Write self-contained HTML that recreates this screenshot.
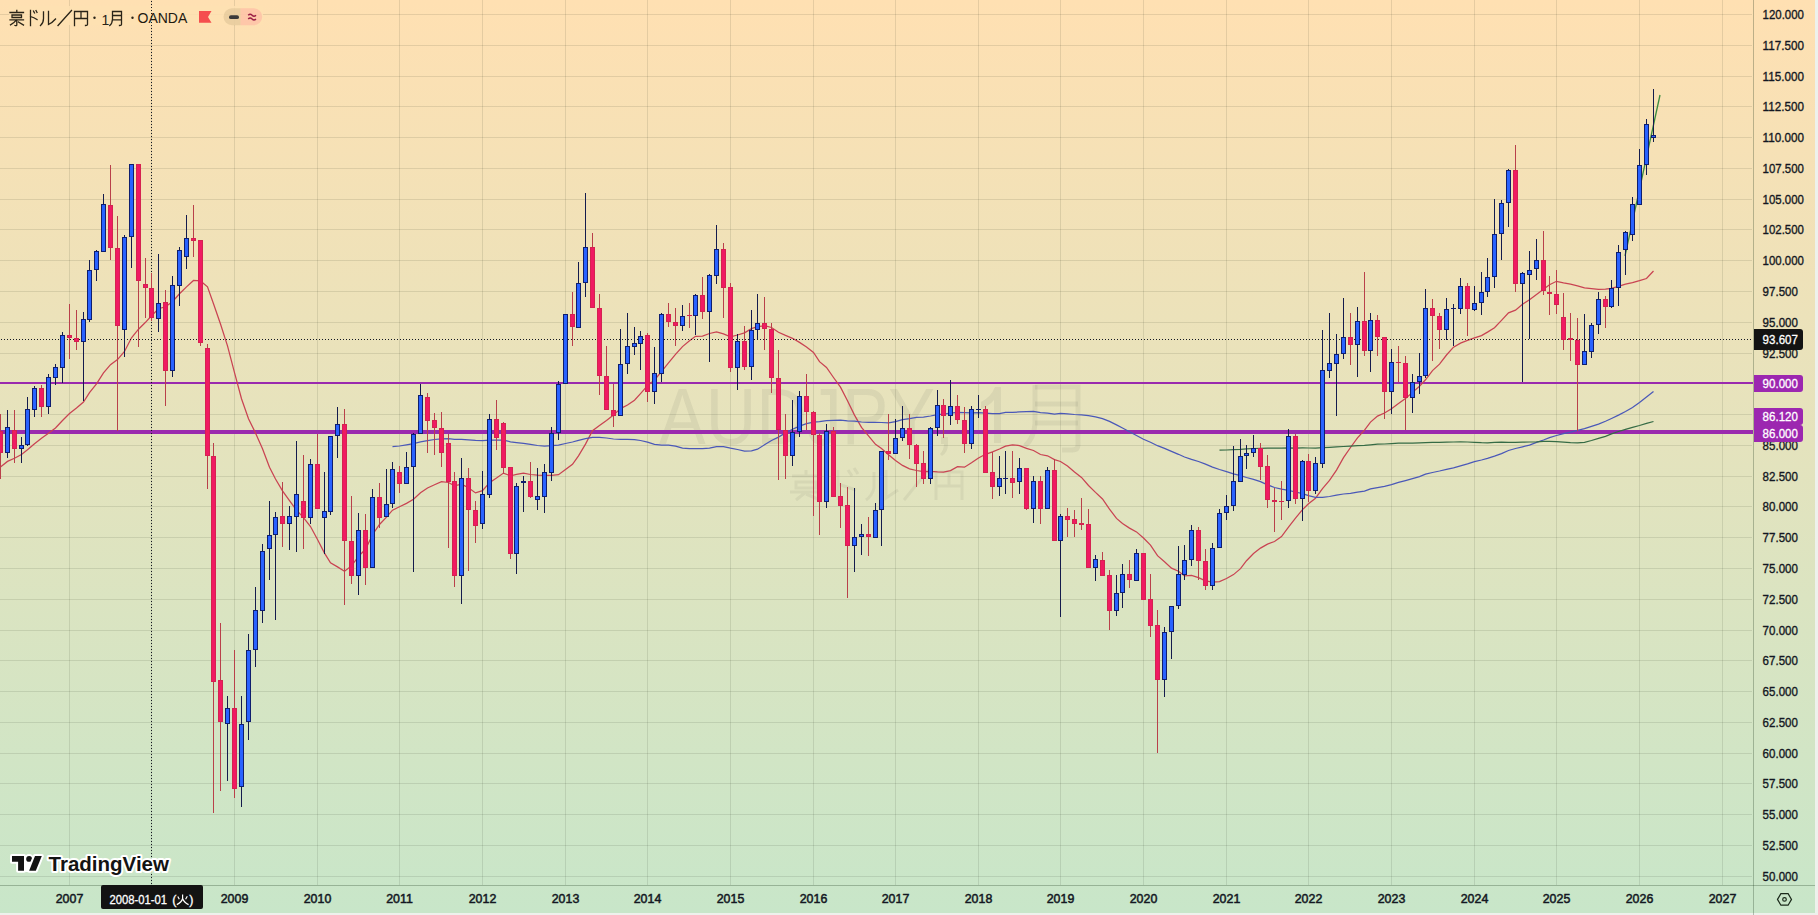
<!DOCTYPE html>
<html><head><meta charset="utf-8"><style>
html,body{margin:0;padding:0;}
body{width:1818px;height:915px;overflow:hidden;position:relative;background:#EEF1EC;}
#bg{position:absolute;left:0;top:0;width:1815px;height:913px;background:linear-gradient(to bottom,#FFE0B2 0%,#C8E6C9 100%);}
</style></head><body>
<div id="bg"></div>
<svg width="1818" height="915" viewBox="0 0 1818 915" style="position:absolute;left:0;top:0"><g stroke="rgba(30,40,20,0.11)" stroke-width="1" shape-rendering="crispEdges"><line x1="0" y1="14.5" x2="1752" y2="14.5"/><line x1="0" y1="45.5" x2="1752" y2="45.5"/><line x1="0" y1="76.5" x2="1752" y2="76.5"/><line x1="0" y1="106.5" x2="1752" y2="106.5"/><line x1="0" y1="137.5" x2="1752" y2="137.5"/><line x1="0" y1="168.5" x2="1752" y2="168.5"/><line x1="0" y1="199.5" x2="1752" y2="199.5"/><line x1="0" y1="229.5" x2="1752" y2="229.5"/><line x1="0" y1="260.5" x2="1752" y2="260.5"/><line x1="0" y1="291.5" x2="1752" y2="291.5"/><line x1="0" y1="322.5" x2="1752" y2="322.5"/><line x1="0" y1="353.5" x2="1752" y2="353.5"/><line x1="0" y1="383.5" x2="1752" y2="383.5"/><line x1="0" y1="414.5" x2="1752" y2="414.5"/><line x1="0" y1="445.5" x2="1752" y2="445.5"/><line x1="0" y1="476.5" x2="1752" y2="476.5"/><line x1="0" y1="506.5" x2="1752" y2="506.5"/><line x1="0" y1="537.5" x2="1752" y2="537.5"/><line x1="0" y1="568.5" x2="1752" y2="568.5"/><line x1="0" y1="599.5" x2="1752" y2="599.5"/><line x1="0" y1="630.5" x2="1752" y2="630.5"/><line x1="0" y1="660.5" x2="1752" y2="660.5"/><line x1="0" y1="691.5" x2="1752" y2="691.5"/><line x1="0" y1="722.5" x2="1752" y2="722.5"/><line x1="0" y1="753.5" x2="1752" y2="753.5"/><line x1="0" y1="783.5" x2="1752" y2="783.5"/><line x1="0" y1="814.5" x2="1752" y2="814.5"/><line x1="0" y1="845.5" x2="1752" y2="845.5"/><line x1="0" y1="876.5" x2="1752" y2="876.5"/><line x1="69.5" y1="0" x2="69.5" y2="885"/><line x1="151.5" y1="0" x2="151.5" y2="885"/><line x1="234.5" y1="0" x2="234.5" y2="885"/><line x1="317.5" y1="0" x2="317.5" y2="885"/><line x1="399.5" y1="0" x2="399.5" y2="885"/><line x1="482.5" y1="0" x2="482.5" y2="885"/><line x1="565.5" y1="0" x2="565.5" y2="885"/><line x1="647.5" y1="0" x2="647.5" y2="885"/><line x1="730.5" y1="0" x2="730.5" y2="885"/><line x1="813.5" y1="0" x2="813.5" y2="885"/><line x1="895.5" y1="0" x2="895.5" y2="885"/><line x1="978.5" y1="0" x2="978.5" y2="885"/><line x1="1060.5" y1="0" x2="1060.5" y2="885"/><line x1="1143.5" y1="0" x2="1143.5" y2="885"/><line x1="1226.5" y1="0" x2="1226.5" y2="885"/><line x1="1308.5" y1="0" x2="1308.5" y2="885"/><line x1="1391.5" y1="0" x2="1391.5" y2="885"/><line x1="1474.5" y1="0" x2="1474.5" y2="885"/><line x1="1556.5" y1="0" x2="1556.5" y2="885"/><line x1="1639.5" y1="0" x2="1639.5" y2="885"/><line x1="1722.5" y1="0" x2="1722.5" y2="885"/></g><rect x="9" y="6" width="254" height="19" fill="rgba(254,224,178,0.88)"/><text x="659" y="443.5" font-family="Liberation Sans, sans-serif" font-size="80" fill="rgba(60,60,60,0.075)" textLength="276" lengthAdjust="spacingAndGlyphs">AUDJPY</text><path d="M941 437 L948 437 L948 444 Q948 452 942 456 L940 454 Q944 450 944 444 L941 444 Z" fill="rgba(60,60,60,0.075)"/><path d="M994 443 L994 400 Q989 406 981 409 L981 402 Q991 397 995 387 L1001 387 L1001 443 Z" fill="rgba(60,60,60,0.075)"/><g fill="none" stroke="rgba(60,60,60,0.075)" stroke-width="5"><path d="M1035 385 L1035 424 Q1034 438 1025 446"/><path d="M1035 387 L1078 387 L1078 445 Q1078 450 1072 450 L1062 450"/><path d="M1035 404 L1078 404"/><path d="M1035 423 L1078 423"/></g><g fill="none" stroke="rgba(60,60,60,0.07)" stroke-width="3"><path d="M792 476 L820 476 M806 470 L806 476 M796 482 L816 482 L816 488 L796 488 Z M790 492 L822 492 M806 492 L796 500 M806 494 L820 500"/><path d="M838 470 L838 500 M838 484 L856 490 M848 470 L852 476 M854 468 L858 474"/><path d="M874 472 L874 488 Q872 496 866 500 M886 470 L886 498 L898 490"/><path d="M930 468 L904 500"/><path d="M936 500 L936 472 L962 472 L962 500 M949 472 L949 486 M936 486 L962 486"/></g><g shape-rendering="crispEdges" fill="#9A2AAE"><rect x="0" y="382" width="1753" height="2"/><rect x="0" y="430" width="1753" height="4"/></g><path d="M-6.5,470.8 L0.5,466.9 L7.5,461.4 L14.5,458.3 L21.5,454.5 L27.5,449.8 L34.5,443.8 L41.5,438.3 L48.5,433.3 L55.5,428.0 L62.5,420.5 L69.5,413.5 L76.5,408.0 L83.5,402.1 L89.5,392.7 L96.5,383.9 L103.5,372.9 L110.5,364.7 L117.5,359.6 L124.5,351.5 L131.5,337.8 L138.5,329.2 L145.5,322.3 L151.5,315.8 L158.5,308.7 L165.5,306.8 L172.5,301.7 L179.5,293.8 L186.5,286.9 L193.5,280.5 L200.5,280.9 L207.5,286.8 L213.5,303.8 L220.5,324.0 L227.5,345.8 L234.5,372.7 L241.5,398.7 L248.5,418.8 L255.5,433.0 L262.5,448.7 L269.5,467.2 L275.5,479.0 L282.5,490.8 L289.5,500.7 L296.5,510.2 L303.5,517.6 L310.5,526.5 L317.5,539.5 L324.5,553.1 L330.5,562.9 L337.5,566.9 L344.5,571.2 L351.5,565.9 L358.5,556.3 L365.5,549.3 L372.5,534.7 L379.5,524.5 L386.5,517.2 L392.5,510.2 L399.5,506.8 L406.5,503.4 L413.5,499.3 L420.5,492.8 L427.5,488.0 L434.5,484.8 L441.5,481.6 L448.5,482.5 L454.5,485.8 L461.5,484.1 L468.5,487.8 L475.5,492.9 L482.5,490.6 L489.5,482.7 L496.5,478.1 L503.5,473.1 L510.5,475.9 L516.5,474.3 L523.5,473.1 L530.5,474.5 L537.5,475.1 L544.5,475.3 L551.5,475.3 L558.5,474.7 L565.5,469.4 L572.5,464.3 L578.5,455.8 L585.5,444.1 L592.5,430.7 L599.5,425.6 L606.5,420.6 L613.5,415.1 L620.5,408.6 L627.5,405.0 L634.5,400.2 L640.5,393.6 L647.5,385.6 L654.5,380.0 L661.5,371.6 L668.5,362.9 L675.5,354.4 L682.5,346.6 L689.5,340.7 L695.5,336.3 L702.5,336.1 L709.5,333.5 L716.5,331.8 L723.5,333.9 L730.5,336.8 L737.5,335.0 L744.5,332.9 L751.5,328.6 L757.5,326.6 L764.5,325.7 L771.5,327.5 L778.5,332.2 L785.5,335.4 L792.5,338.3 L799.5,342.4 L806.5,346.9 L813.5,352.4 L819.5,361.7 L826.5,367.4 L833.5,377.5 L840.5,387.2 L847.5,400.7 L854.5,415.1 L861.5,427.4 L868.5,435.9 L875.5,444.3 L881.5,448.5 L888.5,454.7 L895.5,460.5 L902.5,465.4 L909.5,468.8 L916.5,470.5 L923.5,471.6 L930.5,471.4 L937.5,471.9 L943.5,472.1 L950.5,470.6 L957.5,466.6 L964.5,467.2 L971.5,462.8 L978.5,458.0 L985.5,454.3 L992.5,451.8 L999.5,449.0 L1005.5,446.1 L1012.5,444.8 L1019.5,445.6 L1026.5,448.4 L1033.5,450.5 L1040.5,454.5 L1047.5,455.8 L1054.5,459.6 L1060.5,461.5 L1067.5,466.1 L1074.5,472.0 L1081.5,477.4 L1088.5,485.5 L1095.5,492.4 L1102.5,499.0 L1109.5,509.1 L1116.5,518.4 L1122.5,523.4 L1129.5,528.1 L1136.5,531.9 L1143.5,538.0 L1150.5,545.1 L1157.5,555.7 L1164.5,561.8 L1171.5,568.1 L1178.5,571.3 L1184.5,575.9 L1191.5,575.3 L1198.5,577.6 L1205.5,580.9 L1212.5,582.2 L1219.5,581.6 L1226.5,578.5 L1233.5,574.6 L1240.5,568.6 L1246.5,560.7 L1253.5,553.5 L1260.5,548.1 L1267.5,544.1 L1274.5,541.5 L1281.5,536.6 L1288.5,527.2 L1295.5,518.1 L1302.5,509.6 L1308.5,503.8 L1315.5,498.2 L1322.5,488.7 L1329.5,480.4 L1336.5,470.1 L1343.5,457.6 L1350.5,447.5 L1357.5,437.9 L1364.5,430.1 L1370.5,422.1 L1377.5,416.1 L1384.5,413.0 L1391.5,408.7 L1398.5,403.6 L1405.5,398.4 L1412.5,392.4 L1419.5,386.2 L1425.5,379.8 L1432.5,370.6 L1439.5,364.1 L1446.5,355.0 L1453.5,347.2 L1460.5,343.1 L1467.5,340.4 L1474.5,337.8 L1481.5,335.6 L1487.5,332.1 L1494.5,327.8 L1501.5,320.4 L1508.5,312.9 L1515.5,310.2 L1522.5,304.3 L1529.5,299.7 L1536.5,294.5 L1543.5,289.2 L1549.5,284.8 L1556.5,281.3 L1563.5,282.9 L1570.5,284.1 L1577.5,285.8 L1584.5,287.9 L1591.5,288.7 L1598.5,289.4 L1605.5,289.2 L1611.5,288.4 L1618.5,286.4 L1625.5,284.1 L1632.5,282.7 L1639.5,280.7 L1646.5,278.5 L1653.5,271.0" fill="none" stroke="#C94352" stroke-width="1.25"/><path d="M392.5,446.6 L399.5,446.0 L406.5,444.8 L413.5,443.6 L420.5,441.8 L427.5,440.7 L434.5,439.5 L441.5,438.9 L448.5,438.6 L454.5,439.3 L461.5,439.4 L468.5,439.8 L475.5,440.3 L482.5,440.5 L489.5,440.1 L496.5,440.1 L503.5,440.2 L510.5,441.8 L516.5,442.6 L523.5,443.4 L530.5,444.3 L537.5,445.5 L544.5,446.0 L551.5,445.7 L558.5,445.2 L565.5,443.5 L572.5,442.0 L578.5,440.4 L585.5,438.7 L592.5,437.4 L599.5,437.4 L606.5,438.0 L613.5,439.0 L620.5,439.3 L627.5,439.4 L634.5,439.6 L640.5,440.5 L647.5,442.2 L654.5,444.3 L661.5,445.2 L668.5,445.1 L675.5,446.2 L682.5,448.1 L689.5,448.6 L695.5,448.7 L702.5,448.6 L709.5,448.2 L716.5,446.7 L723.5,446.7 L730.5,448.2 L737.5,449.5 L744.5,451.1 L751.5,450.9 L757.5,449.2 L764.5,444.8 L771.5,440.5 L778.5,437.1 L785.5,432.9 L792.5,429.3 L799.5,426.1 L806.5,423.6 L813.5,422.2 L819.5,421.7 L826.5,420.7 L833.5,420.3 L840.5,420.2 L847.5,420.8 L854.5,421.1 L861.5,422.0 L868.5,422.3 L875.5,422.3 L881.5,422.5 L888.5,422.8 L895.5,421.6 L902.5,419.7 L909.5,418.7 L916.5,417.3 L923.5,417.1 L930.5,416.0 L937.5,414.7 L943.5,414.1 L950.5,413.1 L957.5,412.5 L964.5,412.7 L971.5,412.8 L978.5,412.7 L985.5,413.2 L992.5,413.6 L999.5,413.6 L1005.5,412.4 L1012.5,412.4 L1019.5,411.9 L1026.5,411.7 L1033.5,411.5 L1040.5,412.7 L1047.5,413.1 L1054.5,414.0 L1060.5,413.5 L1067.5,413.9 L1074.5,414.5 L1081.5,414.8 L1088.5,415.7 L1095.5,416.8 L1102.5,418.6 L1109.5,421.4 L1116.5,424.9 L1122.5,428.0 L1129.5,431.7 L1136.5,435.5 L1143.5,439.2 L1150.5,442.3 L1157.5,445.7 L1164.5,448.4 L1171.5,451.4 L1178.5,454.3 L1184.5,457.0 L1191.5,459.4 L1198.5,461.5 L1205.5,464.2 L1212.5,467.1 L1219.5,469.5 L1226.5,471.7 L1233.5,473.8 L1240.5,475.6 L1246.5,477.5 L1253.5,479.3 L1260.5,481.6 L1267.5,484.8 L1274.5,487.5 L1281.5,489.1 L1288.5,490.3 L1295.5,492.0 L1302.5,493.6 L1308.5,495.7 L1315.5,497.4 L1322.5,497.3 L1329.5,496.5 L1336.5,495.2 L1343.5,494.0 L1350.5,493.4 L1357.5,492.2 L1364.5,491.2 L1370.5,488.9 L1377.5,487.7 L1384.5,486.4 L1391.5,484.6 L1398.5,482.4 L1405.5,480.6 L1412.5,478.7 L1419.5,476.7 L1425.5,474.2 L1432.5,472.5 L1439.5,471.0 L1446.5,469.3 L1453.5,467.8 L1460.5,465.9 L1467.5,463.9 L1474.5,461.7 L1481.5,460.0 L1487.5,458.4 L1494.5,456.2 L1501.5,453.6 L1508.5,450.5 L1515.5,448.5 L1522.5,446.8 L1529.5,445.1 L1536.5,442.4 L1543.5,440.0 L1549.5,437.7 L1556.5,435.5 L1563.5,433.7 L1570.5,432.1 L1577.5,430.3 L1584.5,428.7 L1591.5,426.4 L1598.5,424.2 L1605.5,421.3 L1611.5,418.5 L1618.5,415.1 L1625.5,411.5 L1632.5,407.5 L1639.5,402.4 L1646.5,397.0 L1653.5,391.5" fill="none" stroke="#4A58B8" stroke-width="1.25"/><path d="M1219.5,450.2 L1226.5,450.0 L1233.5,449.6 L1240.5,449.3 L1246.5,448.8 L1253.5,448.5 L1260.5,448.3 L1267.5,448.2 L1274.5,448.2 L1281.5,448.1 L1288.5,447.9 L1295.5,448.1 L1302.5,447.9 L1308.5,448.0 L1315.5,448.1 L1322.5,447.7 L1329.5,447.3 L1336.5,446.9 L1343.5,446.5 L1350.5,446.1 L1357.5,445.6 L1364.5,445.4 L1370.5,444.8 L1377.5,444.2 L1384.5,444.0 L1391.5,443.6 L1398.5,443.2 L1405.5,443.1 L1412.5,443.1 L1419.5,442.9 L1425.5,442.6 L1432.5,442.3 L1439.5,442.3 L1446.5,442.2 L1453.5,442.0 L1460.5,441.8 L1467.5,442.0 L1474.5,442.3 L1481.5,442.7 L1487.5,442.9 L1494.5,442.4 L1501.5,442.2 L1508.5,442.3 L1515.5,442.3 L1522.5,442.2 L1529.5,442.0 L1536.5,441.8 L1543.5,441.4 L1549.5,441.4 L1556.5,441.7 L1563.5,442.2 L1570.5,442.7 L1577.5,442.8 L1584.5,442.3 L1591.5,440.5 L1598.5,438.4 L1605.5,436.4 L1611.5,433.9 L1618.5,431.5 L1625.5,429.4 L1632.5,427.4 L1639.5,425.5 L1646.5,423.4 L1653.5,421.5" fill="none" stroke="#356B45" stroke-width="1.25"/><path d="M1625 256 L1660 95" fill="none" stroke="#3B8A3E" stroke-width="1.3"/><g stroke="#131722" stroke-width="1" stroke-dasharray="1 2" shape-rendering="crispEdges"><line x1="151.5" y1="1" x2="151.5" y2="885"/><line x1="1" y1="339.5" x2="1753" y2="339.5"/></g><g shape-rendering="crispEdges"><rect x="0" y="414" width="1" height="65" fill="#B9404A"/><rect x="-2" y="431" width="5" height="22" fill="#D52250"/><rect x="-1" y="432" width="3" height="20" fill="#F01A62"/><rect x="7" y="410" width="1" height="48" fill="#141B4D"/><rect x="5" y="427" width="5" height="26" fill="#0F1E6E"/><rect x="6" y="428" width="3" height="24" fill="#2962FF"/><rect x="14" y="410" width="1" height="53" fill="#B9404A"/><rect x="12" y="430" width="5" height="19" fill="#D52250"/><rect x="13" y="431" width="3" height="17" fill="#F01A62"/><rect x="21" y="437" width="1" height="26" fill="#141B4D"/><rect x="19" y="445" width="5" height="4" fill="#0F1E6E"/><rect x="20" y="446" width="3" height="2" fill="#2962FF"/><rect x="27" y="397" width="1" height="49" fill="#141B4D"/><rect x="25" y="409" width="5" height="36" fill="#0F1E6E"/><rect x="26" y="410" width="3" height="34" fill="#2962FF"/><rect x="34" y="386" width="1" height="31" fill="#141B4D"/><rect x="32" y="388" width="5" height="22" fill="#0F1E6E"/><rect x="33" y="389" width="3" height="20" fill="#2962FF"/><rect x="41" y="385" width="1" height="32" fill="#B9404A"/><rect x="39" y="388" width="5" height="19" fill="#D52250"/><rect x="40" y="389" width="3" height="17" fill="#F01A62"/><rect x="48" y="374" width="1" height="40" fill="#141B4D"/><rect x="46" y="377" width="5" height="30" fill="#0F1E6E"/><rect x="47" y="378" width="3" height="28" fill="#2962FF"/><rect x="55" y="364" width="1" height="21" fill="#141B4D"/><rect x="53" y="367" width="5" height="11" fill="#0F1E6E"/><rect x="54" y="368" width="3" height="9" fill="#2962FF"/><rect x="62" y="332" width="1" height="51" fill="#141B4D"/><rect x="60" y="335" width="5" height="33" fill="#0F1E6E"/><rect x="61" y="336" width="3" height="31" fill="#2962FF"/><rect x="69" y="304" width="1" height="55" fill="#B9404A"/><rect x="67" y="335" width="5" height="3" fill="#D52250"/><rect x="68" y="336" width="3" height="1" fill="#F01A62"/><rect x="76" y="310" width="1" height="40" fill="#B9404A"/><rect x="74" y="338" width="5" height="4" fill="#D52250"/><rect x="75" y="339" width="3" height="2" fill="#F01A62"/><rect x="83" y="312" width="1" height="89" fill="#141B4D"/><rect x="81" y="319" width="5" height="23" fill="#0F1E6E"/><rect x="82" y="320" width="3" height="21" fill="#2962FF"/><rect x="89" y="260" width="1" height="62" fill="#141B4D"/><rect x="87" y="270" width="5" height="50" fill="#0F1E6E"/><rect x="88" y="271" width="3" height="48" fill="#2962FF"/><rect x="96" y="250" width="1" height="31" fill="#141B4D"/><rect x="94" y="251" width="5" height="19" fill="#0F1E6E"/><rect x="95" y="252" width="3" height="17" fill="#2962FF"/><rect x="103" y="194" width="1" height="58" fill="#141B4D"/><rect x="101" y="204" width="5" height="48" fill="#0F1E6E"/><rect x="102" y="205" width="3" height="46" fill="#2962FF"/><rect x="110" y="165" width="1" height="95" fill="#B9404A"/><rect x="108" y="205" width="5" height="43" fill="#D52250"/><rect x="109" y="206" width="3" height="41" fill="#F01A62"/><rect x="117" y="216" width="1" height="215" fill="#B9404A"/><rect x="115" y="248" width="5" height="78" fill="#D52250"/><rect x="116" y="249" width="3" height="76" fill="#F01A62"/><rect x="124" y="235" width="1" height="122" fill="#141B4D"/><rect x="122" y="237" width="5" height="93" fill="#0F1E6E"/><rect x="123" y="238" width="3" height="91" fill="#2962FF"/><rect x="131" y="164" width="1" height="104" fill="#141B4D"/><rect x="129" y="164" width="5" height="73" fill="#0F1E6E"/><rect x="130" y="165" width="3" height="71" fill="#2962FF"/><rect x="138" y="164" width="1" height="183" fill="#B9404A"/><rect x="136" y="164" width="5" height="117" fill="#D52250"/><rect x="137" y="165" width="3" height="115" fill="#F01A62"/><rect x="145" y="258" width="1" height="60" fill="#B9404A"/><rect x="143" y="284" width="5" height="4" fill="#D52250"/><rect x="144" y="285" width="3" height="2" fill="#F01A62"/><rect x="151" y="273" width="1" height="48" fill="#B9404A"/><rect x="149" y="288" width="5" height="30" fill="#D52250"/><rect x="150" y="289" width="3" height="28" fill="#F01A62"/><rect x="158" y="254" width="1" height="78" fill="#141B4D"/><rect x="156" y="303" width="5" height="16" fill="#0F1E6E"/><rect x="157" y="304" width="3" height="14" fill="#2962FF"/><rect x="165" y="290" width="1" height="116" fill="#B9404A"/><rect x="163" y="302" width="5" height="69" fill="#D52250"/><rect x="164" y="303" width="3" height="67" fill="#F01A62"/><rect x="172" y="276" width="1" height="101" fill="#141B4D"/><rect x="170" y="285" width="5" height="86" fill="#0F1E6E"/><rect x="171" y="286" width="3" height="84" fill="#2962FF"/><rect x="179" y="247" width="1" height="59" fill="#141B4D"/><rect x="177" y="250" width="5" height="36" fill="#0F1E6E"/><rect x="178" y="251" width="3" height="34" fill="#2962FF"/><rect x="186" y="215" width="1" height="54" fill="#141B4D"/><rect x="184" y="238" width="5" height="19" fill="#0F1E6E"/><rect x="185" y="239" width="3" height="17" fill="#2962FF"/><rect x="193" y="205" width="1" height="52" fill="#B9404A"/><rect x="191" y="238" width="5" height="3" fill="#D52250"/><rect x="192" y="239" width="3" height="1" fill="#F01A62"/><rect x="200" y="240" width="1" height="106" fill="#B9404A"/><rect x="198" y="240" width="5" height="103" fill="#D52250"/><rect x="199" y="241" width="3" height="101" fill="#F01A62"/><rect x="207" y="344" width="1" height="145" fill="#B9404A"/><rect x="205" y="348" width="5" height="108" fill="#D52250"/><rect x="206" y="349" width="3" height="106" fill="#F01A62"/><rect x="213" y="443" width="1" height="370" fill="#B9404A"/><rect x="211" y="456" width="5" height="226" fill="#D52250"/><rect x="212" y="457" width="3" height="224" fill="#F01A62"/><rect x="220" y="623" width="1" height="168" fill="#B9404A"/><rect x="218" y="680" width="5" height="42" fill="#D52250"/><rect x="219" y="681" width="3" height="40" fill="#F01A62"/><rect x="227" y="696" width="1" height="85" fill="#141B4D"/><rect x="225" y="708" width="5" height="16" fill="#0F1E6E"/><rect x="226" y="709" width="3" height="14" fill="#2962FF"/><rect x="234" y="650" width="1" height="148" fill="#B9404A"/><rect x="232" y="708" width="5" height="81" fill="#D52250"/><rect x="233" y="709" width="3" height="79" fill="#F01A62"/><rect x="241" y="696" width="1" height="111" fill="#141B4D"/><rect x="239" y="724" width="5" height="63" fill="#0F1E6E"/><rect x="240" y="725" width="3" height="61" fill="#2962FF"/><rect x="248" y="634" width="1" height="106" fill="#141B4D"/><rect x="246" y="650" width="5" height="72" fill="#0F1E6E"/><rect x="247" y="651" width="3" height="70" fill="#2962FF"/><rect x="255" y="587" width="1" height="80" fill="#141B4D"/><rect x="253" y="610" width="5" height="40" fill="#0F1E6E"/><rect x="254" y="611" width="3" height="38" fill="#2962FF"/><rect x="262" y="544" width="1" height="79" fill="#141B4D"/><rect x="260" y="551" width="5" height="60" fill="#0F1E6E"/><rect x="261" y="552" width="3" height="58" fill="#2962FF"/><rect x="269" y="501" width="1" height="79" fill="#141B4D"/><rect x="267" y="535" width="5" height="14" fill="#0F1E6E"/><rect x="268" y="536" width="3" height="12" fill="#2962FF"/><rect x="275" y="512" width="1" height="108" fill="#141B4D"/><rect x="273" y="517" width="5" height="18" fill="#0F1E6E"/><rect x="274" y="518" width="3" height="16" fill="#2962FF"/><rect x="282" y="482" width="1" height="65" fill="#B9404A"/><rect x="280" y="516" width="5" height="8" fill="#D52250"/><rect x="281" y="517" width="3" height="6" fill="#F01A62"/><rect x="289" y="506" width="1" height="44" fill="#141B4D"/><rect x="287" y="516" width="5" height="8" fill="#0F1E6E"/><rect x="288" y="517" width="3" height="6" fill="#2962FF"/><rect x="296" y="441" width="1" height="111" fill="#141B4D"/><rect x="294" y="494" width="5" height="23" fill="#0F1E6E"/><rect x="295" y="495" width="3" height="21" fill="#2962FF"/><rect x="303" y="455" width="1" height="94" fill="#B9404A"/><rect x="301" y="501" width="5" height="17" fill="#D52250"/><rect x="302" y="502" width="3" height="15" fill="#F01A62"/><rect x="310" y="459" width="1" height="65" fill="#141B4D"/><rect x="308" y="464" width="5" height="54" fill="#0F1E6E"/><rect x="309" y="465" width="3" height="52" fill="#2962FF"/><rect x="317" y="434" width="1" height="75" fill="#B9404A"/><rect x="315" y="464" width="5" height="45" fill="#D52250"/><rect x="316" y="465" width="3" height="43" fill="#F01A62"/><rect x="324" y="472" width="1" height="82" fill="#141B4D"/><rect x="322" y="511" width="5" height="7" fill="#0F1E6E"/><rect x="323" y="512" width="3" height="5" fill="#2962FF"/><rect x="330" y="436" width="1" height="79" fill="#141B4D"/><rect x="328" y="436" width="5" height="76" fill="#0F1E6E"/><rect x="329" y="437" width="3" height="74" fill="#2962FF"/><rect x="337" y="407" width="1" height="51" fill="#141B4D"/><rect x="335" y="424" width="5" height="12" fill="#0F1E6E"/><rect x="336" y="425" width="3" height="10" fill="#2962FF"/><rect x="344" y="409" width="1" height="196" fill="#B9404A"/><rect x="342" y="424" width="5" height="117" fill="#D52250"/><rect x="343" y="425" width="3" height="115" fill="#F01A62"/><rect x="351" y="496" width="1" height="88" fill="#B9404A"/><rect x="349" y="541" width="5" height="35" fill="#D52250"/><rect x="350" y="542" width="3" height="33" fill="#F01A62"/><rect x="358" y="513" width="1" height="82" fill="#141B4D"/><rect x="356" y="530" width="5" height="46" fill="#0F1E6E"/><rect x="357" y="531" width="3" height="44" fill="#2962FF"/><rect x="365" y="514" width="1" height="71" fill="#B9404A"/><rect x="363" y="530" width="5" height="38" fill="#D52250"/><rect x="364" y="531" width="3" height="36" fill="#F01A62"/><rect x="372" y="489" width="1" height="79" fill="#141B4D"/><rect x="370" y="497" width="5" height="71" fill="#0F1E6E"/><rect x="371" y="498" width="3" height="69" fill="#2962FF"/><rect x="379" y="483" width="1" height="45" fill="#B9404A"/><rect x="377" y="497" width="5" height="21" fill="#D52250"/><rect x="378" y="498" width="3" height="19" fill="#F01A62"/><rect x="386" y="469" width="1" height="48" fill="#141B4D"/><rect x="384" y="504" width="5" height="13" fill="#0F1E6E"/><rect x="385" y="505" width="3" height="11" fill="#2962FF"/><rect x="392" y="462" width="1" height="46" fill="#141B4D"/><rect x="390" y="469" width="5" height="35" fill="#0F1E6E"/><rect x="391" y="470" width="3" height="33" fill="#2962FF"/><rect x="399" y="466" width="1" height="27" fill="#B9404A"/><rect x="397" y="472" width="5" height="12" fill="#D52250"/><rect x="398" y="473" width="3" height="10" fill="#F01A62"/><rect x="406" y="452" width="1" height="32" fill="#141B4D"/><rect x="404" y="467" width="5" height="17" fill="#0F1E6E"/><rect x="405" y="468" width="3" height="15" fill="#2962FF"/><rect x="413" y="433" width="1" height="139" fill="#141B4D"/><rect x="411" y="434" width="5" height="33" fill="#0F1E6E"/><rect x="412" y="435" width="3" height="31" fill="#2962FF"/><rect x="420" y="384" width="1" height="50" fill="#141B4D"/><rect x="418" y="395" width="5" height="39" fill="#0F1E6E"/><rect x="419" y="396" width="3" height="37" fill="#2962FF"/><rect x="427" y="393" width="1" height="60" fill="#B9404A"/><rect x="425" y="397" width="5" height="24" fill="#D52250"/><rect x="426" y="398" width="3" height="22" fill="#F01A62"/><rect x="434" y="413" width="1" height="42" fill="#B9404A"/><rect x="432" y="420" width="5" height="8" fill="#D52250"/><rect x="433" y="421" width="3" height="6" fill="#F01A62"/><rect x="441" y="412" width="1" height="55" fill="#B9404A"/><rect x="439" y="428" width="5" height="25" fill="#D52250"/><rect x="440" y="429" width="3" height="23" fill="#F01A62"/><rect x="448" y="434" width="1" height="114" fill="#B9404A"/><rect x="446" y="443" width="5" height="39" fill="#D52250"/><rect x="447" y="444" width="3" height="37" fill="#F01A62"/><rect x="454" y="472" width="1" height="115" fill="#B9404A"/><rect x="452" y="481" width="5" height="95" fill="#D52250"/><rect x="453" y="482" width="3" height="93" fill="#F01A62"/><rect x="461" y="458" width="1" height="146" fill="#141B4D"/><rect x="459" y="478" width="5" height="98" fill="#0F1E6E"/><rect x="460" y="479" width="3" height="96" fill="#2962FF"/><rect x="468" y="468" width="1" height="103" fill="#B9404A"/><rect x="466" y="478" width="5" height="32" fill="#D52250"/><rect x="467" y="479" width="3" height="30" fill="#F01A62"/><rect x="475" y="501" width="1" height="42" fill="#B9404A"/><rect x="473" y="510" width="5" height="16" fill="#D52250"/><rect x="474" y="511" width="3" height="14" fill="#F01A62"/><rect x="482" y="471" width="1" height="58" fill="#141B4D"/><rect x="480" y="494" width="5" height="30" fill="#0F1E6E"/><rect x="481" y="495" width="3" height="28" fill="#2962FF"/><rect x="489" y="414" width="1" height="84" fill="#141B4D"/><rect x="487" y="419" width="5" height="76" fill="#0F1E6E"/><rect x="488" y="420" width="3" height="74" fill="#2962FF"/><rect x="496" y="400" width="1" height="50" fill="#B9404A"/><rect x="494" y="419" width="5" height="19" fill="#D52250"/><rect x="495" y="420" width="3" height="17" fill="#F01A62"/><rect x="503" y="422" width="1" height="52" fill="#B9404A"/><rect x="501" y="423" width="5" height="45" fill="#D52250"/><rect x="502" y="424" width="3" height="43" fill="#F01A62"/><rect x="510" y="467" width="1" height="92" fill="#B9404A"/><rect x="508" y="467" width="5" height="87" fill="#D52250"/><rect x="509" y="468" width="3" height="85" fill="#F01A62"/><rect x="516" y="483" width="1" height="91" fill="#141B4D"/><rect x="514" y="486" width="5" height="68" fill="#0F1E6E"/><rect x="515" y="487" width="3" height="66" fill="#2962FF"/><rect x="523" y="476" width="1" height="36" fill="#141B4D"/><rect x="521" y="481" width="5" height="2" fill="#0F1E6E"/><rect x="530" y="462" width="1" height="36" fill="#B9404A"/><rect x="528" y="481" width="5" height="16" fill="#D52250"/><rect x="529" y="482" width="3" height="14" fill="#F01A62"/><rect x="537" y="468" width="1" height="42" fill="#141B4D"/><rect x="535" y="496" width="5" height="4" fill="#0F1E6E"/><rect x="536" y="497" width="3" height="2" fill="#2962FF"/><rect x="544" y="464" width="1" height="49" fill="#141B4D"/><rect x="542" y="472" width="5" height="25" fill="#0F1E6E"/><rect x="543" y="473" width="3" height="23" fill="#2962FF"/><rect x="551" y="427" width="1" height="54" fill="#141B4D"/><rect x="549" y="433" width="5" height="40" fill="#0F1E6E"/><rect x="550" y="434" width="3" height="38" fill="#2962FF"/><rect x="558" y="381" width="1" height="59" fill="#141B4D"/><rect x="556" y="384" width="5" height="49" fill="#0F1E6E"/><rect x="557" y="385" width="3" height="47" fill="#2962FF"/><rect x="565" y="314" width="1" height="70" fill="#141B4D"/><rect x="563" y="314" width="5" height="70" fill="#0F1E6E"/><rect x="564" y="315" width="3" height="68" fill="#2962FF"/><rect x="572" y="292" width="1" height="54" fill="#B9404A"/><rect x="570" y="314" width="5" height="13" fill="#D52250"/><rect x="571" y="315" width="3" height="11" fill="#F01A62"/><rect x="578" y="262" width="1" height="66" fill="#141B4D"/><rect x="576" y="283" width="5" height="45" fill="#0F1E6E"/><rect x="577" y="284" width="3" height="43" fill="#2962FF"/><rect x="585" y="193" width="1" height="104" fill="#141B4D"/><rect x="583" y="247" width="5" height="36" fill="#0F1E6E"/><rect x="584" y="248" width="3" height="34" fill="#2962FF"/><rect x="592" y="233" width="1" height="75" fill="#B9404A"/><rect x="590" y="247" width="5" height="61" fill="#D52250"/><rect x="591" y="248" width="3" height="59" fill="#F01A62"/><rect x="599" y="294" width="1" height="101" fill="#B9404A"/><rect x="597" y="308" width="5" height="68" fill="#D52250"/><rect x="598" y="309" width="3" height="66" fill="#F01A62"/><rect x="606" y="346" width="1" height="64" fill="#B9404A"/><rect x="604" y="376" width="5" height="34" fill="#D52250"/><rect x="605" y="377" width="3" height="32" fill="#F01A62"/><rect x="613" y="384" width="1" height="43" fill="#B9404A"/><rect x="611" y="410" width="5" height="6" fill="#D52250"/><rect x="612" y="411" width="3" height="4" fill="#F01A62"/><rect x="620" y="329" width="1" height="87" fill="#141B4D"/><rect x="618" y="364" width="5" height="52" fill="#0F1E6E"/><rect x="619" y="365" width="3" height="50" fill="#2962FF"/><rect x="627" y="313" width="1" height="61" fill="#141B4D"/><rect x="625" y="346" width="5" height="18" fill="#0F1E6E"/><rect x="626" y="347" width="3" height="16" fill="#2962FF"/><rect x="634" y="327" width="1" height="28" fill="#141B4D"/><rect x="632" y="343" width="5" height="4" fill="#0F1E6E"/><rect x="633" y="344" width="3" height="2" fill="#2962FF"/><rect x="640" y="331" width="1" height="39" fill="#141B4D"/><rect x="638" y="336" width="5" height="8" fill="#0F1E6E"/><rect x="639" y="337" width="3" height="6" fill="#2962FF"/><rect x="647" y="333" width="1" height="69" fill="#B9404A"/><rect x="645" y="335" width="5" height="57" fill="#D52250"/><rect x="646" y="336" width="3" height="55" fill="#F01A62"/><rect x="654" y="347" width="1" height="57" fill="#141B4D"/><rect x="652" y="373" width="5" height="19" fill="#0F1E6E"/><rect x="653" y="374" width="3" height="17" fill="#2962FF"/><rect x="661" y="313" width="1" height="69" fill="#141B4D"/><rect x="659" y="314" width="5" height="60" fill="#0F1E6E"/><rect x="660" y="315" width="3" height="58" fill="#2962FF"/><rect x="668" y="303" width="1" height="24" fill="#B9404A"/><rect x="666" y="314" width="5" height="8" fill="#D52250"/><rect x="667" y="315" width="3" height="6" fill="#F01A62"/><rect x="675" y="308" width="1" height="38" fill="#B9404A"/><rect x="673" y="322" width="5" height="4" fill="#D52250"/><rect x="674" y="323" width="3" height="2" fill="#F01A62"/><rect x="682" y="305" width="1" height="26" fill="#141B4D"/><rect x="680" y="316" width="5" height="10" fill="#0F1E6E"/><rect x="681" y="317" width="3" height="8" fill="#2962FF"/><rect x="689" y="303" width="1" height="25" fill="#B9404A"/><rect x="687" y="315" width="5" height="1" fill="#D52250"/><rect x="695" y="294" width="1" height="41" fill="#141B4D"/><rect x="693" y="295" width="5" height="21" fill="#0F1E6E"/><rect x="694" y="296" width="3" height="19" fill="#2962FF"/><rect x="702" y="277" width="1" height="42" fill="#B9404A"/><rect x="700" y="295" width="5" height="17" fill="#D52250"/><rect x="701" y="296" width="3" height="15" fill="#F01A62"/><rect x="709" y="274" width="1" height="88" fill="#141B4D"/><rect x="707" y="275" width="5" height="37" fill="#0F1E6E"/><rect x="708" y="276" width="3" height="35" fill="#2962FF"/><rect x="716" y="225" width="1" height="59" fill="#141B4D"/><rect x="714" y="249" width="5" height="27" fill="#0F1E6E"/><rect x="715" y="250" width="3" height="25" fill="#2962FF"/><rect x="723" y="243" width="1" height="75" fill="#B9404A"/><rect x="721" y="249" width="5" height="39" fill="#D52250"/><rect x="722" y="250" width="3" height="37" fill="#F01A62"/><rect x="730" y="283" width="1" height="89" fill="#B9404A"/><rect x="728" y="287" width="5" height="81" fill="#D52250"/><rect x="729" y="288" width="3" height="79" fill="#F01A62"/><rect x="737" y="334" width="1" height="56" fill="#141B4D"/><rect x="735" y="341" width="5" height="27" fill="#0F1E6E"/><rect x="736" y="342" width="3" height="25" fill="#2962FF"/><rect x="744" y="326" width="1" height="44" fill="#B9404A"/><rect x="742" y="341" width="5" height="26" fill="#D52250"/><rect x="743" y="342" width="3" height="24" fill="#F01A62"/><rect x="751" y="310" width="1" height="70" fill="#141B4D"/><rect x="749" y="330" width="5" height="37" fill="#0F1E6E"/><rect x="750" y="331" width="3" height="35" fill="#2962FF"/><rect x="757" y="294" width="1" height="45" fill="#141B4D"/><rect x="755" y="323" width="5" height="7" fill="#0F1E6E"/><rect x="756" y="324" width="3" height="5" fill="#2962FF"/><rect x="764" y="297" width="1" height="53" fill="#B9404A"/><rect x="762" y="323" width="5" height="6" fill="#D52250"/><rect x="763" y="324" width="3" height="4" fill="#F01A62"/><rect x="771" y="323" width="1" height="70" fill="#B9404A"/><rect x="769" y="329" width="5" height="49" fill="#D52250"/><rect x="770" y="330" width="3" height="47" fill="#F01A62"/><rect x="778" y="350" width="1" height="130" fill="#B9404A"/><rect x="776" y="378" width="5" height="52" fill="#D52250"/><rect x="777" y="379" width="3" height="50" fill="#F01A62"/><rect x="785" y="414" width="1" height="65" fill="#B9404A"/><rect x="783" y="430" width="5" height="26" fill="#D52250"/><rect x="784" y="431" width="3" height="24" fill="#F01A62"/><rect x="792" y="400" width="1" height="66" fill="#141B4D"/><rect x="790" y="432" width="5" height="24" fill="#0F1E6E"/><rect x="791" y="433" width="3" height="22" fill="#2962FF"/><rect x="799" y="391" width="1" height="46" fill="#141B4D"/><rect x="797" y="396" width="5" height="36" fill="#0F1E6E"/><rect x="798" y="397" width="3" height="34" fill="#2962FF"/><rect x="806" y="374" width="1" height="56" fill="#B9404A"/><rect x="804" y="396" width="5" height="16" fill="#D52250"/><rect x="805" y="397" width="3" height="14" fill="#F01A62"/><rect x="813" y="411" width="1" height="105" fill="#B9404A"/><rect x="811" y="412" width="5" height="23" fill="#D52250"/><rect x="812" y="413" width="3" height="21" fill="#F01A62"/><rect x="819" y="433" width="1" height="102" fill="#B9404A"/><rect x="817" y="435" width="5" height="67" fill="#D52250"/><rect x="818" y="436" width="3" height="65" fill="#F01A62"/><rect x="826" y="424" width="1" height="84" fill="#141B4D"/><rect x="824" y="431" width="5" height="71" fill="#0F1E6E"/><rect x="825" y="432" width="3" height="69" fill="#2962FF"/><rect x="833" y="427" width="1" height="70" fill="#B9404A"/><rect x="831" y="431" width="5" height="66" fill="#D52250"/><rect x="832" y="432" width="3" height="64" fill="#F01A62"/><rect x="840" y="483" width="1" height="45" fill="#B9404A"/><rect x="838" y="496" width="5" height="10" fill="#D52250"/><rect x="839" y="497" width="3" height="8" fill="#F01A62"/><rect x="847" y="487" width="1" height="111" fill="#B9404A"/><rect x="845" y="505" width="5" height="41" fill="#D52250"/><rect x="846" y="506" width="3" height="39" fill="#F01A62"/><rect x="854" y="488" width="1" height="84" fill="#141B4D"/><rect x="852" y="537" width="5" height="9" fill="#0F1E6E"/><rect x="853" y="538" width="3" height="7" fill="#2962FF"/><rect x="861" y="524" width="1" height="31" fill="#141B4D"/><rect x="859" y="534" width="5" height="3" fill="#0F1E6E"/><rect x="860" y="535" width="3" height="1" fill="#2962FF"/><rect x="868" y="517" width="1" height="39" fill="#B9404A"/><rect x="866" y="534" width="5" height="3" fill="#D52250"/><rect x="867" y="535" width="3" height="1" fill="#F01A62"/><rect x="875" y="503" width="1" height="35" fill="#141B4D"/><rect x="873" y="510" width="5" height="28" fill="#0F1E6E"/><rect x="874" y="511" width="3" height="26" fill="#2962FF"/><rect x="881" y="451" width="1" height="95" fill="#141B4D"/><rect x="879" y="451" width="5" height="59" fill="#0F1E6E"/><rect x="880" y="452" width="3" height="57" fill="#2962FF"/><rect x="888" y="414" width="1" height="46" fill="#B9404A"/><rect x="886" y="451" width="5" height="3" fill="#D52250"/><rect x="887" y="452" width="3" height="1" fill="#F01A62"/><rect x="895" y="419" width="1" height="35" fill="#141B4D"/><rect x="893" y="438" width="5" height="16" fill="#0F1E6E"/><rect x="894" y="439" width="3" height="14" fill="#2962FF"/><rect x="902" y="406" width="1" height="35" fill="#141B4D"/><rect x="900" y="428" width="5" height="10" fill="#0F1E6E"/><rect x="901" y="429" width="3" height="8" fill="#2962FF"/><rect x="909" y="414" width="1" height="45" fill="#B9404A"/><rect x="907" y="428" width="5" height="17" fill="#D52250"/><rect x="908" y="429" width="3" height="15" fill="#F01A62"/><rect x="916" y="444" width="1" height="43" fill="#B9404A"/><rect x="914" y="445" width="5" height="19" fill="#D52250"/><rect x="915" y="446" width="3" height="17" fill="#F01A62"/><rect x="923" y="451" width="1" height="33" fill="#B9404A"/><rect x="921" y="463" width="5" height="16" fill="#D52250"/><rect x="922" y="464" width="3" height="14" fill="#F01A62"/><rect x="930" y="427" width="1" height="57" fill="#141B4D"/><rect x="928" y="428" width="5" height="51" fill="#0F1E6E"/><rect x="929" y="429" width="3" height="49" fill="#2962FF"/><rect x="937" y="390" width="1" height="46" fill="#141B4D"/><rect x="935" y="405" width="5" height="23" fill="#0F1E6E"/><rect x="936" y="406" width="3" height="21" fill="#2962FF"/><rect x="943" y="399" width="1" height="39" fill="#B9404A"/><rect x="941" y="405" width="5" height="11" fill="#D52250"/><rect x="942" y="406" width="3" height="9" fill="#F01A62"/><rect x="950" y="380" width="1" height="45" fill="#141B4D"/><rect x="948" y="406" width="5" height="10" fill="#0F1E6E"/><rect x="949" y="407" width="3" height="8" fill="#2962FF"/><rect x="957" y="395" width="1" height="29" fill="#B9404A"/><rect x="955" y="406" width="5" height="14" fill="#D52250"/><rect x="956" y="407" width="3" height="12" fill="#F01A62"/><rect x="964" y="407" width="1" height="46" fill="#B9404A"/><rect x="962" y="420" width="5" height="24" fill="#D52250"/><rect x="963" y="421" width="3" height="22" fill="#F01A62"/><rect x="971" y="406" width="1" height="43" fill="#141B4D"/><rect x="969" y="409" width="5" height="35" fill="#0F1E6E"/><rect x="970" y="410" width="3" height="33" fill="#2962FF"/><rect x="978" y="395" width="1" height="23" fill="#141B4D"/><rect x="976" y="409" width="5" height="1" fill="#0F1E6E"/><rect x="985" y="406" width="1" height="67" fill="#B9404A"/><rect x="983" y="409" width="5" height="64" fill="#D52250"/><rect x="984" y="410" width="3" height="62" fill="#F01A62"/><rect x="992" y="452" width="1" height="47" fill="#B9404A"/><rect x="990" y="472" width="5" height="15" fill="#D52250"/><rect x="991" y="473" width="3" height="13" fill="#F01A62"/><rect x="999" y="456" width="1" height="40" fill="#141B4D"/><rect x="997" y="478" width="5" height="9" fill="#0F1E6E"/><rect x="998" y="479" width="3" height="7" fill="#2962FF"/><rect x="1005" y="451" width="1" height="43" fill="#141B4D"/><rect x="1003" y="478" width="5" height="1" fill="#0F1E6E"/><rect x="1012" y="451" width="1" height="47" fill="#B9404A"/><rect x="1010" y="478" width="5" height="5" fill="#D52250"/><rect x="1011" y="479" width="3" height="3" fill="#F01A62"/><rect x="1019" y="458" width="1" height="36" fill="#141B4D"/><rect x="1017" y="468" width="5" height="14" fill="#0F1E6E"/><rect x="1018" y="469" width="3" height="12" fill="#2962FF"/><rect x="1026" y="468" width="1" height="42" fill="#B9404A"/><rect x="1024" y="468" width="5" height="41" fill="#D52250"/><rect x="1025" y="469" width="3" height="39" fill="#F01A62"/><rect x="1033" y="476" width="1" height="47" fill="#141B4D"/><rect x="1031" y="481" width="5" height="28" fill="#0F1E6E"/><rect x="1032" y="482" width="3" height="26" fill="#2962FF"/><rect x="1040" y="476" width="1" height="48" fill="#B9404A"/><rect x="1038" y="481" width="5" height="28" fill="#D52250"/><rect x="1039" y="482" width="3" height="26" fill="#F01A62"/><rect x="1047" y="467" width="1" height="42" fill="#141B4D"/><rect x="1045" y="470" width="5" height="39" fill="#0F1E6E"/><rect x="1046" y="471" width="3" height="37" fill="#2962FF"/><rect x="1054" y="459" width="1" height="82" fill="#B9404A"/><rect x="1052" y="470" width="5" height="71" fill="#D52250"/><rect x="1053" y="471" width="3" height="69" fill="#F01A62"/><rect x="1060" y="514" width="1" height="103" fill="#141B4D"/><rect x="1058" y="516" width="5" height="25" fill="#0F1E6E"/><rect x="1059" y="517" width="3" height="23" fill="#2962FF"/><rect x="1067" y="508" width="1" height="29" fill="#B9404A"/><rect x="1065" y="516" width="5" height="4" fill="#D52250"/><rect x="1066" y="517" width="3" height="2" fill="#F01A62"/><rect x="1074" y="510" width="1" height="27" fill="#B9404A"/><rect x="1072" y="519" width="5" height="5" fill="#D52250"/><rect x="1073" y="520" width="3" height="3" fill="#F01A62"/><rect x="1081" y="498" width="1" height="32" fill="#B9404A"/><rect x="1079" y="523" width="5" height="2" fill="#D52250"/><rect x="1088" y="509" width="1" height="59" fill="#B9404A"/><rect x="1086" y="524" width="5" height="44" fill="#D52250"/><rect x="1087" y="525" width="3" height="42" fill="#F01A62"/><rect x="1095" y="555" width="1" height="26" fill="#141B4D"/><rect x="1093" y="559" width="5" height="9" fill="#0F1E6E"/><rect x="1094" y="560" width="3" height="7" fill="#2962FF"/><rect x="1102" y="552" width="1" height="24" fill="#B9404A"/><rect x="1100" y="560" width="5" height="16" fill="#D52250"/><rect x="1101" y="561" width="3" height="14" fill="#F01A62"/><rect x="1109" y="570" width="1" height="60" fill="#B9404A"/><rect x="1107" y="575" width="5" height="36" fill="#D52250"/><rect x="1108" y="576" width="3" height="34" fill="#F01A62"/><rect x="1116" y="575" width="1" height="41" fill="#141B4D"/><rect x="1114" y="593" width="5" height="18" fill="#0F1E6E"/><rect x="1115" y="594" width="3" height="16" fill="#2962FF"/><rect x="1122" y="564" width="1" height="44" fill="#141B4D"/><rect x="1120" y="574" width="5" height="19" fill="#0F1E6E"/><rect x="1121" y="575" width="3" height="17" fill="#2962FF"/><rect x="1129" y="560" width="1" height="28" fill="#B9404A"/><rect x="1127" y="574" width="5" height="6" fill="#D52250"/><rect x="1128" y="575" width="3" height="4" fill="#F01A62"/><rect x="1136" y="549" width="1" height="32" fill="#141B4D"/><rect x="1134" y="553" width="5" height="28" fill="#0F1E6E"/><rect x="1135" y="554" width="3" height="26" fill="#2962FF"/><rect x="1143" y="553" width="1" height="47" fill="#B9404A"/><rect x="1141" y="553" width="5" height="47" fill="#D52250"/><rect x="1142" y="554" width="3" height="45" fill="#F01A62"/><rect x="1150" y="574" width="1" height="63" fill="#B9404A"/><rect x="1148" y="599" width="5" height="27" fill="#D52250"/><rect x="1149" y="600" width="3" height="25" fill="#F01A62"/><rect x="1157" y="610" width="1" height="143" fill="#B9404A"/><rect x="1155" y="625" width="5" height="55" fill="#D52250"/><rect x="1156" y="626" width="3" height="53" fill="#F01A62"/><rect x="1164" y="627" width="1" height="70" fill="#141B4D"/><rect x="1162" y="632" width="5" height="48" fill="#0F1E6E"/><rect x="1163" y="633" width="3" height="46" fill="#2962FF"/><rect x="1171" y="606" width="1" height="53" fill="#141B4D"/><rect x="1169" y="606" width="5" height="26" fill="#0F1E6E"/><rect x="1170" y="607" width="3" height="24" fill="#2962FF"/><rect x="1178" y="546" width="1" height="63" fill="#141B4D"/><rect x="1176" y="574" width="5" height="32" fill="#0F1E6E"/><rect x="1177" y="575" width="3" height="30" fill="#2962FF"/><rect x="1184" y="545" width="1" height="35" fill="#141B4D"/><rect x="1182" y="560" width="5" height="15" fill="#0F1E6E"/><rect x="1183" y="561" width="3" height="13" fill="#2962FF"/><rect x="1191" y="525" width="1" height="41" fill="#141B4D"/><rect x="1189" y="530" width="5" height="30" fill="#0F1E6E"/><rect x="1190" y="531" width="3" height="28" fill="#2962FF"/><rect x="1198" y="527" width="1" height="53" fill="#B9404A"/><rect x="1196" y="530" width="5" height="31" fill="#D52250"/><rect x="1197" y="531" width="3" height="29" fill="#F01A62"/><rect x="1205" y="549" width="1" height="41" fill="#B9404A"/><rect x="1203" y="561" width="5" height="25" fill="#D52250"/><rect x="1204" y="562" width="3" height="23" fill="#F01A62"/><rect x="1212" y="543" width="1" height="47" fill="#141B4D"/><rect x="1210" y="548" width="5" height="38" fill="#0F1E6E"/><rect x="1211" y="549" width="3" height="36" fill="#2962FF"/><rect x="1219" y="509" width="1" height="39" fill="#141B4D"/><rect x="1217" y="513" width="5" height="35" fill="#0F1E6E"/><rect x="1218" y="514" width="3" height="33" fill="#2962FF"/><rect x="1226" y="495" width="1" height="25" fill="#141B4D"/><rect x="1224" y="506" width="5" height="7" fill="#0F1E6E"/><rect x="1225" y="507" width="3" height="5" fill="#2962FF"/><rect x="1233" y="446" width="1" height="65" fill="#141B4D"/><rect x="1231" y="481" width="5" height="25" fill="#0F1E6E"/><rect x="1232" y="482" width="3" height="23" fill="#2962FF"/><rect x="1240" y="439" width="1" height="43" fill="#141B4D"/><rect x="1238" y="456" width="5" height="26" fill="#0F1E6E"/><rect x="1239" y="457" width="3" height="24" fill="#2962FF"/><rect x="1246" y="445" width="1" height="24" fill="#141B4D"/><rect x="1244" y="453" width="5" height="3" fill="#0F1E6E"/><rect x="1245" y="454" width="3" height="1" fill="#2962FF"/><rect x="1253" y="435" width="1" height="22" fill="#141B4D"/><rect x="1251" y="448" width="5" height="5" fill="#0F1E6E"/><rect x="1252" y="449" width="3" height="3" fill="#2962FF"/><rect x="1260" y="443" width="1" height="37" fill="#B9404A"/><rect x="1258" y="448" width="5" height="19" fill="#D52250"/><rect x="1259" y="449" width="3" height="17" fill="#F01A62"/><rect x="1267" y="455" width="1" height="53" fill="#B9404A"/><rect x="1265" y="466" width="5" height="34" fill="#D52250"/><rect x="1266" y="467" width="3" height="32" fill="#F01A62"/><rect x="1274" y="488" width="1" height="44" fill="#B9404A"/><rect x="1272" y="500" width="5" height="2" fill="#D52250"/><rect x="1281" y="481" width="1" height="39" fill="#B9404A"/><rect x="1279" y="501" width="5" height="1" fill="#D52250"/><rect x="1288" y="429" width="1" height="79" fill="#141B4D"/><rect x="1286" y="436" width="5" height="65" fill="#0F1E6E"/><rect x="1287" y="437" width="3" height="63" fill="#2962FF"/><rect x="1295" y="434" width="1" height="70" fill="#B9404A"/><rect x="1293" y="436" width="5" height="63" fill="#D52250"/><rect x="1294" y="437" width="3" height="61" fill="#F01A62"/><rect x="1302" y="460" width="1" height="61" fill="#141B4D"/><rect x="1300" y="461" width="5" height="38" fill="#0F1E6E"/><rect x="1301" y="462" width="3" height="36" fill="#2962FF"/><rect x="1308" y="454" width="1" height="48" fill="#B9404A"/><rect x="1306" y="461" width="5" height="30" fill="#D52250"/><rect x="1307" y="462" width="3" height="28" fill="#F01A62"/><rect x="1315" y="457" width="1" height="37" fill="#141B4D"/><rect x="1313" y="463" width="5" height="28" fill="#0F1E6E"/><rect x="1314" y="464" width="3" height="26" fill="#2962FF"/><rect x="1322" y="330" width="1" height="138" fill="#141B4D"/><rect x="1320" y="370" width="5" height="94" fill="#0F1E6E"/><rect x="1321" y="371" width="3" height="92" fill="#2962FF"/><rect x="1329" y="313" width="1" height="65" fill="#141B4D"/><rect x="1327" y="363" width="5" height="8" fill="#0F1E6E"/><rect x="1328" y="364" width="3" height="6" fill="#2962FF"/><rect x="1336" y="334" width="1" height="82" fill="#141B4D"/><rect x="1334" y="354" width="5" height="10" fill="#0F1E6E"/><rect x="1335" y="355" width="3" height="8" fill="#2962FF"/><rect x="1343" y="298" width="1" height="61" fill="#141B4D"/><rect x="1341" y="337" width="5" height="17" fill="#0F1E6E"/><rect x="1342" y="338" width="3" height="15" fill="#2962FF"/><rect x="1350" y="313" width="1" height="52" fill="#B9404A"/><rect x="1348" y="337" width="5" height="8" fill="#D52250"/><rect x="1349" y="338" width="3" height="6" fill="#F01A62"/><rect x="1357" y="307" width="1" height="70" fill="#141B4D"/><rect x="1355" y="321" width="5" height="24" fill="#0F1E6E"/><rect x="1356" y="322" width="3" height="22" fill="#2962FF"/><rect x="1364" y="272" width="1" height="84" fill="#B9404A"/><rect x="1362" y="321" width="5" height="30" fill="#D52250"/><rect x="1363" y="322" width="3" height="28" fill="#F01A62"/><rect x="1370" y="313" width="1" height="59" fill="#141B4D"/><rect x="1368" y="320" width="5" height="31" fill="#0F1E6E"/><rect x="1369" y="321" width="3" height="29" fill="#2962FF"/><rect x="1377" y="315" width="1" height="41" fill="#B9404A"/><rect x="1375" y="320" width="5" height="17" fill="#D52250"/><rect x="1376" y="321" width="3" height="15" fill="#F01A62"/><rect x="1384" y="337" width="1" height="82" fill="#B9404A"/><rect x="1382" y="337" width="5" height="55" fill="#D52250"/><rect x="1383" y="338" width="3" height="53" fill="#F01A62"/><rect x="1391" y="349" width="1" height="65" fill="#141B4D"/><rect x="1389" y="362" width="5" height="30" fill="#0F1E6E"/><rect x="1390" y="363" width="3" height="28" fill="#2962FF"/><rect x="1398" y="346" width="1" height="36" fill="#B9404A"/><rect x="1396" y="362" width="5" height="1" fill="#D52250"/><rect x="1405" y="356" width="1" height="74" fill="#B9404A"/><rect x="1403" y="363" width="5" height="35" fill="#D52250"/><rect x="1404" y="364" width="3" height="33" fill="#F01A62"/><rect x="1412" y="374" width="1" height="39" fill="#141B4D"/><rect x="1410" y="382" width="5" height="16" fill="#0F1E6E"/><rect x="1411" y="383" width="3" height="14" fill="#2962FF"/><rect x="1419" y="353" width="1" height="41" fill="#141B4D"/><rect x="1417" y="376" width="5" height="6" fill="#0F1E6E"/><rect x="1418" y="377" width="3" height="4" fill="#2962FF"/><rect x="1425" y="289" width="1" height="89" fill="#141B4D"/><rect x="1423" y="308" width="5" height="68" fill="#0F1E6E"/><rect x="1424" y="309" width="3" height="66" fill="#2962FF"/><rect x="1432" y="299" width="1" height="62" fill="#B9404A"/><rect x="1430" y="308" width="5" height="8" fill="#D52250"/><rect x="1431" y="309" width="3" height="6" fill="#F01A62"/><rect x="1439" y="313" width="1" height="36" fill="#B9404A"/><rect x="1437" y="316" width="5" height="14" fill="#D52250"/><rect x="1438" y="317" width="3" height="12" fill="#F01A62"/><rect x="1446" y="298" width="1" height="42" fill="#141B4D"/><rect x="1444" y="309" width="5" height="21" fill="#0F1E6E"/><rect x="1445" y="310" width="3" height="19" fill="#2962FF"/><rect x="1453" y="304" width="1" height="42" fill="#141B4D"/><rect x="1451" y="308" width="5" height="1" fill="#0F1E6E"/><rect x="1460" y="278" width="1" height="36" fill="#141B4D"/><rect x="1458" y="286" width="5" height="23" fill="#0F1E6E"/><rect x="1459" y="287" width="3" height="21" fill="#2962FF"/><rect x="1467" y="283" width="1" height="53" fill="#B9404A"/><rect x="1465" y="286" width="5" height="23" fill="#D52250"/><rect x="1466" y="287" width="3" height="21" fill="#F01A62"/><rect x="1474" y="286" width="1" height="25" fill="#141B4D"/><rect x="1472" y="303" width="5" height="7" fill="#0F1E6E"/><rect x="1473" y="304" width="3" height="5" fill="#2962FF"/><rect x="1481" y="272" width="1" height="43" fill="#141B4D"/><rect x="1479" y="292" width="5" height="11" fill="#0F1E6E"/><rect x="1480" y="293" width="3" height="9" fill="#2962FF"/><rect x="1487" y="258" width="1" height="39" fill="#141B4D"/><rect x="1485" y="277" width="5" height="15" fill="#0F1E6E"/><rect x="1486" y="278" width="3" height="13" fill="#2962FF"/><rect x="1494" y="199" width="1" height="89" fill="#141B4D"/><rect x="1492" y="234" width="5" height="43" fill="#0F1E6E"/><rect x="1493" y="235" width="3" height="41" fill="#2962FF"/><rect x="1501" y="200" width="1" height="60" fill="#141B4D"/><rect x="1499" y="203" width="5" height="31" fill="#0F1E6E"/><rect x="1500" y="204" width="3" height="29" fill="#2962FF"/><rect x="1508" y="169" width="1" height="58" fill="#141B4D"/><rect x="1506" y="170" width="5" height="33" fill="#0F1E6E"/><rect x="1507" y="171" width="3" height="31" fill="#2962FF"/><rect x="1515" y="145" width="1" height="147" fill="#B9404A"/><rect x="1513" y="170" width="5" height="114" fill="#D52250"/><rect x="1514" y="171" width="3" height="112" fill="#F01A62"/><rect x="1522" y="272" width="1" height="110" fill="#141B4D"/><rect x="1520" y="273" width="5" height="11" fill="#0F1E6E"/><rect x="1521" y="274" width="3" height="9" fill="#2962FF"/><rect x="1529" y="251" width="1" height="88" fill="#141B4D"/><rect x="1527" y="270" width="5" height="5" fill="#0F1E6E"/><rect x="1528" y="271" width="3" height="3" fill="#2962FF"/><rect x="1536" y="239" width="1" height="41" fill="#141B4D"/><rect x="1534" y="260" width="5" height="9" fill="#0F1E6E"/><rect x="1535" y="261" width="3" height="7" fill="#2962FF"/><rect x="1543" y="231" width="1" height="64" fill="#B9404A"/><rect x="1541" y="260" width="5" height="31" fill="#D52250"/><rect x="1542" y="261" width="3" height="29" fill="#F01A62"/><rect x="1549" y="276" width="1" height="39" fill="#B9404A"/><rect x="1547" y="292" width="5" height="2" fill="#D52250"/><rect x="1556" y="270" width="1" height="44" fill="#B9404A"/><rect x="1554" y="294" width="5" height="11" fill="#D52250"/><rect x="1555" y="295" width="3" height="9" fill="#F01A62"/><rect x="1563" y="293" width="1" height="57" fill="#B9404A"/><rect x="1561" y="317" width="5" height="23" fill="#D52250"/><rect x="1562" y="318" width="3" height="21" fill="#F01A62"/><rect x="1570" y="313" width="1" height="48" fill="#B9404A"/><rect x="1568" y="338" width="5" height="2" fill="#D52250"/><rect x="1577" y="318" width="1" height="113" fill="#B9404A"/><rect x="1575" y="340" width="5" height="25" fill="#D52250"/><rect x="1576" y="341" width="3" height="23" fill="#F01A62"/><rect x="1584" y="314" width="1" height="51" fill="#141B4D"/><rect x="1582" y="351" width="5" height="14" fill="#0F1E6E"/><rect x="1583" y="352" width="3" height="12" fill="#2962FF"/><rect x="1591" y="323" width="1" height="35" fill="#141B4D"/><rect x="1589" y="325" width="5" height="27" fill="#0F1E6E"/><rect x="1590" y="326" width="3" height="25" fill="#2962FF"/><rect x="1598" y="292" width="1" height="42" fill="#141B4D"/><rect x="1596" y="299" width="5" height="26" fill="#0F1E6E"/><rect x="1597" y="300" width="3" height="24" fill="#2962FF"/><rect x="1605" y="296" width="1" height="32" fill="#B9404A"/><rect x="1603" y="299" width="5" height="8" fill="#D52250"/><rect x="1604" y="300" width="3" height="6" fill="#F01A62"/><rect x="1611" y="280" width="1" height="28" fill="#141B4D"/><rect x="1609" y="288" width="5" height="19" fill="#0F1E6E"/><rect x="1610" y="289" width="3" height="17" fill="#2962FF"/><rect x="1618" y="245" width="1" height="61" fill="#141B4D"/><rect x="1616" y="252" width="5" height="36" fill="#0F1E6E"/><rect x="1617" y="253" width="3" height="34" fill="#2962FF"/><rect x="1625" y="231" width="1" height="44" fill="#141B4D"/><rect x="1623" y="232" width="5" height="18" fill="#0F1E6E"/><rect x="1624" y="233" width="3" height="16" fill="#2962FF"/><rect x="1632" y="197" width="1" height="44" fill="#141B4D"/><rect x="1630" y="204" width="5" height="31" fill="#0F1E6E"/><rect x="1631" y="205" width="3" height="29" fill="#2962FF"/><rect x="1639" y="149" width="1" height="56" fill="#141B4D"/><rect x="1637" y="165" width="5" height="40" fill="#0F1E6E"/><rect x="1638" y="166" width="3" height="38" fill="#2962FF"/><rect x="1646" y="119" width="1" height="56" fill="#141B4D"/><rect x="1644" y="124" width="5" height="41" fill="#0F1E6E"/><rect x="1645" y="125" width="3" height="39" fill="#2962FF"/><rect x="1653" y="89" width="1" height="53" fill="#141B4D"/><rect x="1651" y="135" width="5" height="3" fill="#0F1E6E"/><rect x="1652" y="136" width="3" height="1" fill="#2962FF"/></g><g shape-rendering="crispEdges" fill="rgba(20,45,20,0.28)"><rect x="1753" y="0" width="1" height="915"/><rect x="0" y="885" width="1815" height="1"/></g><g font-family="Liberation Sans, sans-serif" font-size="12.6" fill="#131722" stroke="#131722" stroke-width="0.35"><text x="1762.6" y="19.1" textLength="41.3" lengthAdjust="spacingAndGlyphs">120.000</text><text x="1762.6" y="50.1" textLength="41.3" lengthAdjust="spacingAndGlyphs">117.500</text><text x="1762.6" y="81.1" textLength="41.3" lengthAdjust="spacingAndGlyphs">115.000</text><text x="1762.6" y="111.1" textLength="41.3" lengthAdjust="spacingAndGlyphs">112.500</text><text x="1762.6" y="142.1" textLength="41.3" lengthAdjust="spacingAndGlyphs">110.000</text><text x="1762.6" y="173.1" textLength="41.3" lengthAdjust="spacingAndGlyphs">107.500</text><text x="1762.6" y="204.1" textLength="41.3" lengthAdjust="spacingAndGlyphs">105.000</text><text x="1762.6" y="234.1" textLength="41.3" lengthAdjust="spacingAndGlyphs">102.500</text><text x="1762.6" y="265.1" textLength="41.3" lengthAdjust="spacingAndGlyphs">100.000</text><text x="1762.6" y="296.1" textLength="35.3" lengthAdjust="spacingAndGlyphs">97.500</text><text x="1762.6" y="327.1" textLength="35.3" lengthAdjust="spacingAndGlyphs">95.000</text><text x="1762.6" y="358.1" textLength="35.3" lengthAdjust="spacingAndGlyphs">92.500</text><text x="1762.6" y="388.1" textLength="35.3" lengthAdjust="spacingAndGlyphs">90.000</text><text x="1762.6" y="419.1" textLength="35.3" lengthAdjust="spacingAndGlyphs">87.500</text><text x="1762.6" y="450.1" textLength="35.3" lengthAdjust="spacingAndGlyphs">85.000</text><text x="1762.6" y="481.1" textLength="35.3" lengthAdjust="spacingAndGlyphs">82.500</text><text x="1762.6" y="511.1" textLength="35.3" lengthAdjust="spacingAndGlyphs">80.000</text><text x="1762.6" y="542.1" textLength="35.3" lengthAdjust="spacingAndGlyphs">77.500</text><text x="1762.6" y="573.1" textLength="35.3" lengthAdjust="spacingAndGlyphs">75.000</text><text x="1762.6" y="604.1" textLength="35.3" lengthAdjust="spacingAndGlyphs">72.500</text><text x="1762.6" y="635.1" textLength="35.3" lengthAdjust="spacingAndGlyphs">70.000</text><text x="1762.6" y="665.1" textLength="35.3" lengthAdjust="spacingAndGlyphs">67.500</text><text x="1762.6" y="696.1" textLength="35.3" lengthAdjust="spacingAndGlyphs">65.000</text><text x="1762.6" y="727.1" textLength="35.3" lengthAdjust="spacingAndGlyphs">62.500</text><text x="1762.6" y="758.1" textLength="35.3" lengthAdjust="spacingAndGlyphs">60.000</text><text x="1762.6" y="788.1" textLength="35.3" lengthAdjust="spacingAndGlyphs">57.500</text><text x="1762.6" y="819.1" textLength="35.3" lengthAdjust="spacingAndGlyphs">55.000</text><text x="1762.6" y="850.1" textLength="35.3" lengthAdjust="spacingAndGlyphs">52.500</text><text x="1762.6" y="881.1" textLength="35.3" lengthAdjust="spacingAndGlyphs">50.000</text></g><g font-family="Liberation Sans, sans-serif" font-size="12.4" fill="#131722" stroke="#131722" stroke-width="0.5"><text x="69.5" y="902.5" text-anchor="middle">2007</text><text x="234.5" y="902.5" text-anchor="middle">2009</text><text x="317.5" y="902.5" text-anchor="middle">2010</text><text x="399.5" y="902.5" text-anchor="middle">2011</text><text x="482.5" y="902.5" text-anchor="middle">2012</text><text x="565.5" y="902.5" text-anchor="middle">2013</text><text x="647.5" y="902.5" text-anchor="middle">2014</text><text x="730.5" y="902.5" text-anchor="middle">2015</text><text x="813.5" y="902.5" text-anchor="middle">2016</text><text x="895.5" y="902.5" text-anchor="middle">2017</text><text x="978.5" y="902.5" text-anchor="middle">2018</text><text x="1060.5" y="902.5" text-anchor="middle">2019</text><text x="1143.5" y="902.5" text-anchor="middle">2020</text><text x="1226.5" y="902.5" text-anchor="middle">2021</text><text x="1308.5" y="902.5" text-anchor="middle">2022</text><text x="1391.5" y="902.5" text-anchor="middle">2023</text><text x="1474.5" y="902.5" text-anchor="middle">2024</text><text x="1556.5" y="902.5" text-anchor="middle">2025</text><text x="1639.5" y="902.5" text-anchor="middle">2026</text><text x="1722.5" y="902.5" text-anchor="middle">2027</text></g><path d="M1754 329 L1800 329 Q1803 329 1803 332 L1803 347 Q1803 350 1800 350 L1754 350 Z" fill="#131313"/><text x="1762.6" y="344.1" font-family="Liberation Sans, sans-serif" font-size="12.6" fill="#FFFFFF" stroke="#FFFFFF" stroke-width="0.3" textLength="35.3" lengthAdjust="spacingAndGlyphs">93.607</text><path d="M1754 375 L1800 375 Q1803 375 1803 378 L1803 389 Q1803 392 1800 392 L1754 392 Z" fill="#9C27B0"/><text x="1762.6" y="388.1" font-family="Liberation Sans, sans-serif" font-size="12.6" fill="#FFFFFF" stroke="#FFFFFF" stroke-width="0.3" textLength="35.3" lengthAdjust="spacingAndGlyphs">90.000</text><path d="M1754 408 L1800 408 Q1803 408 1803 411 L1803 422 Q1803 425 1800 425 L1754 425 Z" fill="#9C27B0"/><text x="1762.6" y="421.1" font-family="Liberation Sans, sans-serif" font-size="12.6" fill="#FFFFFF" stroke="#FFFFFF" stroke-width="0.3" textLength="35.3" lengthAdjust="spacingAndGlyphs">86.120</text><path d="M1754 425 L1800 425 Q1803 425 1803 428 L1803 439 Q1803 442 1800 442 L1754 442 Z" fill="#9C27B0"/><text x="1762.6" y="438.1" font-family="Liberation Sans, sans-serif" font-size="12.6" fill="#FFFFFF" stroke="#FFFFFF" stroke-width="0.3" textLength="35.3" lengthAdjust="spacingAndGlyphs">86.000</text><rect x="101" y="885" width="102" height="24" rx="2" fill="#131313"/><g font-family="Liberation Sans, sans-serif" font-size="12.6" fill="#FFFFFF" stroke="#FFFFFF" stroke-width="0.3"><text x="109.4" y="903.6" textLength="57.6" lengthAdjust="spacingAndGlyphs">2008-01-01</text><text x="172.2" y="903.6">(</text><text x="189.2" y="903.6">)</text></g><g fill="none" stroke="#FFFFFF" stroke-width="1.2"><path d="M182.6 894.5 L182.6 898.5 Q181.5 902.5 176.8 904.6 M182.6 898.5 Q184 902.5 188.6 904.6 M177.8 896.5 L179.3 899.2 M187.3 896.2 L185.6 899.2"/></g><g fill="none" stroke="#1b2a1b" stroke-width="1.2"><path d="M1777.5 899.4 L1780.9 893.6 L1788.1 893.6 L1791.5 899.4 L1788.1 905.2 L1780.9 905.2 Z"/><circle cx="1784.5" cy="899.4" r="1.8"/></g></svg>

<svg width="300" height="34" style="position:absolute;left:0;top:0">
 <g fill="none" stroke="#2a2418" stroke-width="1.3" stroke-linecap="square">
  <path d="M10 12.5 L23.5 12.5 M16.8 10.5 L16.8 12.5 M12 15 L21.5 15 L21.5 17.5 L12 17.5 Z M10 19.8 L23.5 19.8 M16.5 19.8 Q14 23 10.5 24.8 M16.8 21 L16.8 25 Q16.5 26 15 25.5 M18.5 22 L23.5 25"/>
  <path d="M30.5 10.5 L30.5 25.5 M30.5 16.5 Q34 17.5 37 19.5 M33.5 11 L34.5 13 M36 10.5 L37 12.5"/>
  <path d="M43.5 12 L43.5 18.5 Q43.5 23 40.5 25.5 M48.5 11.5 L48.5 24.5 Q52.5 22.5 55.5 19"/>
  <path d="M71.5 10.5 L58 25.5"/>
  <path d="M74.5 25.5 L74.5 11.5 L87.5 11.5 L87.5 24.5 Q87.5 25.5 85.5 25.5 M81 11.5 L81 18.5 M74.5 18.5 L87.5 18.5"/>
  <path d="M112.5 11.5 L112.5 19 Q112.3 23.5 109.8 25.5 M112.5 11.5 L121.5 11.5 L121.5 24.5 Q121.5 25.5 119.5 25.5 M112.5 15.5 L121.5 15.5 M112.5 19.8 L121.5 19.8"/>
 </g>
 <circle cx="94.5" cy="17.8" r="1.2" fill="#2a2418"/>
 <circle cx="132.5" cy="17.8" r="1.2" fill="#2a2418"/>
 <text x="101.5" y="25.3" font-family="Liberation Sans, sans-serif" font-size="14" fill="#2a2418">1</text>
 <text x="137.5" y="22.8" font-family="Liberation Sans, sans-serif" font-size="14" fill="#1f1a10">OANDA</text>
 <path d="M199 11 L211.5 11 L208 16.9 L211.5 22.7 L199 22.7 Z" fill="#F54E4E"/>
 <path d="M240.5 8.3 L232 8.3 A8.5 8.5 0 0 0 232 25.3 L240.5 25.3 Z" fill="rgba(130,110,70,0.15)"/>
 <path d="M240.5 8.3 L253.7 8.3 A8.5 8.5 0 0 1 253.7 25.3 L240.5 25.3 Z" fill="rgba(255,140,150,0.30)"/>
 <rect x="229" y="15.3" width="10" height="3.8" rx="1.9" fill="#3a3a3a"/>
 <path d="M248.2 15.2 Q250.2 13.2 252.1 15.2 Q254 17.2 256 15.2 M248.2 19 Q250.2 17 252.1 19 Q254 21 256 19" fill="none" stroke="#9B1E45" stroke-width="1.4"/>
</svg>


<svg width="190" height="40" style="position:absolute;left:0;top:845">
 <path d="M23 14 L33 14 L29 27 L23 27 Z" fill="#FFFFFF"/>
 <g stroke="#FFFFFF" stroke-width="4" stroke-linejoin="round" fill="#131313" paint-order="stroke">
  <path d="M12 11 L24 11 L24 25.8 L18.1 25.8 L18.1 16.8 L12 16.8 Z"/>
  <circle cx="29.1" cy="13.9" r="2.9"/>
  <path d="M35 11 L41.8 11 L35.8 25.8 L29.1 25.8 Z"/>
  <text x="48.5" y="26" font-family="Liberation Sans, sans-serif" font-weight="bold" font-size="20.5" textLength="120.5" lengthAdjust="spacingAndGlyphs">TradingView</text>
 </g>
</svg>

</body></html>
